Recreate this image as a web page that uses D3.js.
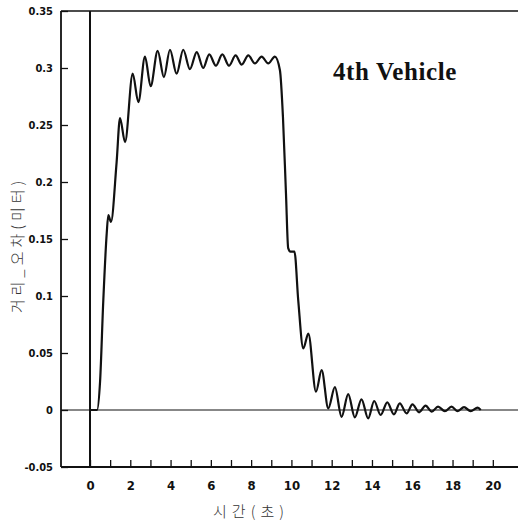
<!DOCTYPE html>
<html>
<head>
<meta charset="utf-8">
<script src="https://cdn.jsdelivr.net/npm/d3@7"></script>
<style>
  html, body { margin: 0; padding: 0; background: #fff; }
  svg { display: block; }
  .tick text { font-family: "Liberation Sans Narrow", "DejaVu Sans Condensed", "Liberation Sans", sans-serif; font-weight: bold; fill: #111; }
</style>
</head>
<body>
<svg id="chart" width="518" height="523"></svg>
<script>
// ---- data ----
const time = [0, 0.35, 0.5, 0.66, 0.83, 0.91, 1.04, 1.32, 1.49, 1.74, 2.12, 2.40, 2.73, 3.01,
  3.36, 3.67, 3.97, 4.30, 4.63, 4.96, 5.30, 5.62, 5.92, 6.25, 6.57, 6.90, 7.23, 7.53, 7.86, 8.19,
  8.52, 8.85, 9.18, 9.43, 9.58, 9.73, 9.84, 9.95, 10.15, 10.34, 10.59, 10.84, 11.22, 11.5, 11.83,
  12.16, 12.49, 12.82, 13.15, 13.48, 13.81, 14.11, 14.43, 14.76, 15.09, 15.38, 15.72, 16.01, 16.34,
  16.66, 16.97, 17.28, 17.62, 17.95, 18.26, 18.57, 18.9, 19.25, 19.4];
const distanceError = [0, 0, 0.025, 0.096, 0.155, 0.171, 0.165, 0.217, 0.256, 0.235, 0.295, 0.270, 0.31, 0.284,
  0.315, 0.292, 0.316, 0.295, 0.316, 0.299, 0.314, 0.300, 0.312, 0.302, 0.312, 0.302, 0.311, 0.303, 0.311, 0.304,
  0.310, 0.304, 0.310, 0.298, 0.257, 0.19, 0.142, 0.139, 0.139, 0.096, 0.054, 0.067, 0.016, 0.035, 0.0015,
  0.020, -0.006, 0.014, -0.0065, 0.0094, -0.0073, 0.0079, -0.0044, 0.0067, -0.0038, 0.0058, -0.003, 0.005, -0.002,
  0.0038, -0.0015, 0.003, -0.001, 0.0029, -0.001, 0.0026, -0.001, 0.002, 0];
const xTicks = d3.range(0, 21, 1);
const xTickLabels = ["0","","2","","4","","6","","8","","10","","12","","14","","16","","18","","20"];
const yTicks = [-0.05, 0, 0.05, 0.1, 0.15, 0.2, 0.25, 0.3, 0.35];
const yTickLabels = ["-0.05","0","0.05","0.1","0.15","0.2","0.25","0.3","0.35"];
const titleText = "4th Vehicle";
const xLabel = "시간(초)";
const yLabel = "거리_오차(미터)";

// ---- layout ----
const svg = d3.select("#chart");
const plotLeft = 61, plotTop = 11, plotBottom = 467, plotRight = 519;
const x = d3.scaleLinear().domain([-1.44, 21.3]).range([plotLeft, plotRight]);
const y = d3.scaleLinear().domain([-0.05, 0.35]).range([plotBottom, plotTop]);

// axes
const xAxis = d3.axisBottom(x).tickValues(xTicks)
  .tickFormat((d, i) => xTickLabels[i]).tickSize(-7).tickPadding(14);
const gx = svg.append("g").attr("transform", `translate(0,${plotBottom})`).call(xAxis);
gx.select(".domain").remove();
gx.selectAll(".tick line").attr("stroke", "#111").attr("stroke-width", 1.3);
gx.selectAll(".tick text").attr("font-size", 13);

const yAxis = d3.axisLeft(y).tickValues(yTicks)
  .tickFormat((d, i) => yTickLabels[i]).tickSize(-7).tickPadding(8);
const gy = svg.append("g").attr("transform", `translate(${plotLeft},0)`).call(yAxis);
gy.select(".domain").remove();
gy.selectAll(".tick line").attr("stroke", "#111").attr("stroke-width", 1.3);
gy.selectAll(".tick text").attr("font-size", 11);

// frame
svg.append("line").attr("x1", plotLeft).attr("x2", plotLeft).attr("y1", plotTop).attr("y2", plotBottom)
  .attr("stroke", "#111").attr("stroke-width", 1.8);
svg.append("line").attr("x1", plotLeft).attr("x2", 518).attr("y1", plotTop).attr("y2", plotTop)
  .attr("stroke", "#111").attr("stroke-width", 1.5);
svg.append("line").attr("x1", plotLeft).attr("x2", 518).attr("y1", plotBottom).attr("y2", plotBottom)
  .attr("stroke", "#111").attr("stroke-width", 1.8);

// zero reference lines
svg.append("line").attr("x1", plotLeft).attr("x2", 518).attr("y1", y(0)).attr("y2", y(0))
  .attr("stroke", "#111").attr("stroke-width", 1.2);
svg.append("line").attr("x1", x(0)).attr("x2", x(0)).attr("y1", plotTop).attr("y2", plotBottom)
  .attr("stroke", "#111").attr("stroke-width", 2);

// curve
const pts = time.map((t, i) => [t, distanceError[i]]);
svg.append("path").datum(pts)
  .attr("fill", "none").attr("stroke", "#111").attr("stroke-width", 2.2)
  .attr("stroke-linejoin", "round")
  .attr("d", d3.line().x(d => x(d[0])).y(d => y(d[1])).curve(d3.curveMonotoneX));

// title
svg.append("text").attr("x", 333).attr("y", 80)
  .attr("font-family", "Liberation Serif, Times New Roman, serif").attr("font-weight", "bold")
  .attr("font-size", 25).attr("letter-spacing", 0.6).attr("fill", "#111").text(titleText);

// axis labels
svg.append("text").attr("x", 251).attr("y", 517).attr("text-anchor", "middle")
  .attr("font-family", "Noto Sans CJK KR, sans-serif").attr("font-weight", 300)
  .attr("font-size", 15).attr("letter-spacing", 5).attr("fill", "#333").text(xLabel);
svg.append("text").attr("transform", "translate(23,245) rotate(-90)").attr("text-anchor", "middle")
  .attr("font-family", "Noto Sans CJK KR, sans-serif").attr("font-weight", 300)
  .attr("font-size", 15).attr("letter-spacing", 4).attr("fill", "#333").text(yLabel);
</script>
</body>
</html>
